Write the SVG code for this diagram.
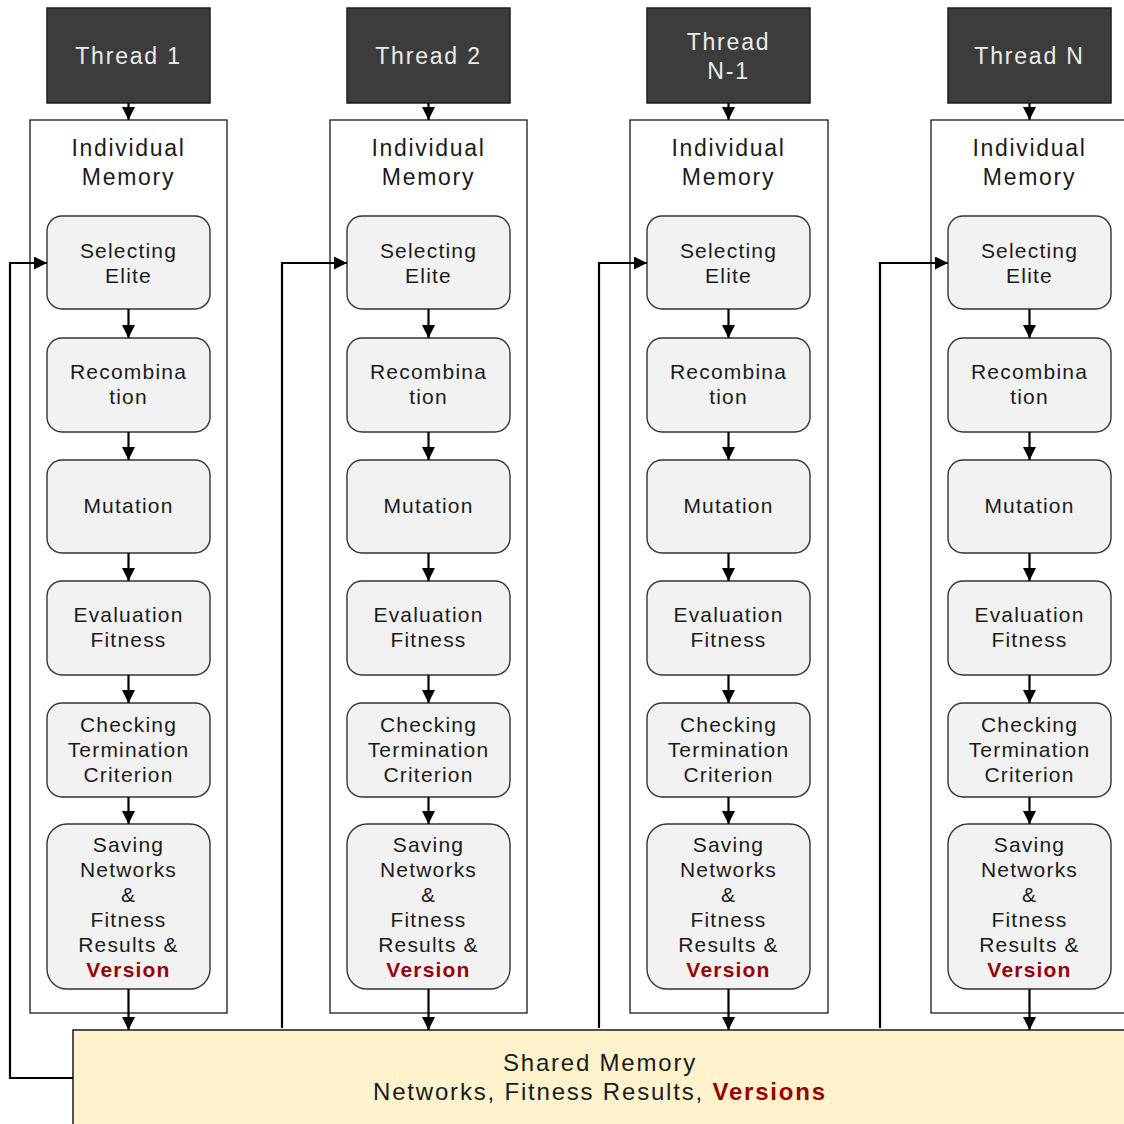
<svg xmlns="http://www.w3.org/2000/svg" width="1124" height="1124" viewBox="0 0 1124 1124">
<defs>
<style>
text{font-family:"Liberation Sans",Arial,sans-serif;text-anchor:middle;fill:#1a1a1a}
.thr rect{fill:#3c3c3c;stroke:#1e1e1e;stroke-width:1.5}
.thr text{fill:#ececec;font-size:23px;letter-spacing:1.8px}
.mem rect{fill:#ffffff;stroke:#1a1a1a;stroke-width:1.3}
.mem text{font-size:23px;letter-spacing:1.7px}
.nd rect{fill:#f2f2f2;stroke:#333333;stroke-width:1.4}
.nd text{font-size:21px;letter-spacing:1.2px}
.red{fill:#990000;font-weight:bold}
.con path{fill:none;stroke:#000;stroke-width:2.2}
.shared rect{fill:#fff2cc;stroke:#1a1a1a;stroke-width:1.5}
.shared text{font-size:24px;letter-spacing:1.8px}
</style>
<marker id="ah" viewBox="0 0 10 10" refX="10" refY="5" markerWidth="13" markerHeight="13" markerUnits="userSpaceOnUse" orient="auto">
<path d="M0,0 L10,5 L0,10 z" fill="#000"/>
</marker>
</defs>
<rect width="1124" height="1124" fill="#ffffff"/>

<!-- Column 1 -->
<g id="thread1" class="thr"><rect x="47" y="8" width="163" height="95"/><text x="128.5" y="64">Thread 1</text></g>
<g id="mem1" class="mem"><rect x="30" y="120" width="197" height="893"/><text x="128.5" y="156">Individual</text><text x="128.5" y="185">Memory</text></g>
<g id="sel1" class="nd"><rect x="47" y="216" width="163" height="93" rx="15"/><text x="128.5" y="258">Selecting</text><text x="128.5" y="283">Elite</text></g>
<g id="rec1" class="nd"><rect x="47" y="338" width="163" height="94" rx="15"/><text x="128.5" y="379">Recombina</text><text x="128.5" y="404">tion</text></g>
<g id="mut1" class="nd"><rect x="47" y="460" width="163" height="93" rx="15"/><text x="128.5" y="513">Mutation</text></g>
<g id="eva1" class="nd"><rect x="47" y="581" width="163" height="94" rx="15"/><text x="128.5" y="622">Evaluation</text><text x="128.5" y="647">Fitness</text></g>
<g id="chk1" class="nd"><rect x="47" y="703" width="163" height="94" rx="15"/><text x="128.5" y="732">Checking</text><text x="128.5" y="757">Termination</text><text x="128.5" y="782">Criterion</text></g>
<g id="sav1" class="nd"><rect x="47" y="824" width="163" height="165" rx="20"/><text x="128.5" y="852">Saving</text><text x="128.5" y="877">Networks</text><text x="128.5" y="902">&amp;</text><text x="128.5" y="927">Fitness</text><text x="128.5" y="952">Results &amp;</text><text x="128.5" y="977" class="red">Version</text></g>

<!-- Column 2 -->
<g id="thread2" class="thr"><rect x="347" y="8" width="163" height="95"/><text x="428.5" y="64">Thread 2</text></g>
<g id="mem2" class="mem"><rect x="330" y="120" width="197" height="893"/><text x="428.5" y="156">Individual</text><text x="428.5" y="185">Memory</text></g>
<g id="sel2" class="nd"><rect x="347" y="216" width="163" height="93" rx="15"/><text x="428.5" y="258">Selecting</text><text x="428.5" y="283">Elite</text></g>
<g id="rec2" class="nd"><rect x="347" y="338" width="163" height="94" rx="15"/><text x="428.5" y="379">Recombina</text><text x="428.5" y="404">tion</text></g>
<g id="mut2" class="nd"><rect x="347" y="460" width="163" height="93" rx="15"/><text x="428.5" y="513">Mutation</text></g>
<g id="eva2" class="nd"><rect x="347" y="581" width="163" height="94" rx="15"/><text x="428.5" y="622">Evaluation</text><text x="428.5" y="647">Fitness</text></g>
<g id="chk2" class="nd"><rect x="347" y="703" width="163" height="94" rx="15"/><text x="428.5" y="732">Checking</text><text x="428.5" y="757">Termination</text><text x="428.5" y="782">Criterion</text></g>
<g id="sav2" class="nd"><rect x="347" y="824" width="163" height="165" rx="20"/><text x="428.5" y="852">Saving</text><text x="428.5" y="877">Networks</text><text x="428.5" y="902">&amp;</text><text x="428.5" y="927">Fitness</text><text x="428.5" y="952">Results &amp;</text><text x="428.5" y="977" class="red">Version</text></g>

<!-- Column 3 -->
<g id="thread3" class="thr"><rect x="647" y="8" width="163" height="95"/><text x="728.5" y="50">Thread</text><text x="728.5" y="79">N-1</text></g>
<g id="mem3" class="mem"><rect x="630" y="120" width="198" height="893"/><text x="728.5" y="156">Individual</text><text x="728.5" y="185">Memory</text></g>
<g id="sel3" class="nd"><rect x="647" y="216" width="163" height="93" rx="15"/><text x="728.5" y="258">Selecting</text><text x="728.5" y="283">Elite</text></g>
<g id="rec3" class="nd"><rect x="647" y="338" width="163" height="94" rx="15"/><text x="728.5" y="379">Recombina</text><text x="728.5" y="404">tion</text></g>
<g id="mut3" class="nd"><rect x="647" y="460" width="163" height="93" rx="15"/><text x="728.5" y="513">Mutation</text></g>
<g id="eva3" class="nd"><rect x="647" y="581" width="163" height="94" rx="15"/><text x="728.5" y="622">Evaluation</text><text x="728.5" y="647">Fitness</text></g>
<g id="chk3" class="nd"><rect x="647" y="703" width="163" height="94" rx="15"/><text x="728.5" y="732">Checking</text><text x="728.5" y="757">Termination</text><text x="728.5" y="782">Criterion</text></g>
<g id="sav3" class="nd"><rect x="647" y="824" width="163" height="165" rx="20"/><text x="728.5" y="852">Saving</text><text x="728.5" y="877">Networks</text><text x="728.5" y="902">&amp;</text><text x="728.5" y="927">Fitness</text><text x="728.5" y="952">Results &amp;</text><text x="728.5" y="977" class="red">Version</text></g>

<!-- Column 4 -->
<g id="thread4" class="thr"><rect x="948" y="8" width="163" height="95"/><text x="1029.5" y="64">Thread N</text></g>
<g id="mem4" class="mem"><rect x="931" y="120" width="200" height="893"/><text x="1029.5" y="156">Individual</text><text x="1029.5" y="185">Memory</text></g>
<g id="sel4" class="nd"><rect x="948" y="216" width="163" height="93" rx="15"/><text x="1029.5" y="258">Selecting</text><text x="1029.5" y="283">Elite</text></g>
<g id="rec4" class="nd"><rect x="948" y="338" width="163" height="94" rx="15"/><text x="1029.5" y="379">Recombina</text><text x="1029.5" y="404">tion</text></g>
<g id="mut4" class="nd"><rect x="948" y="460" width="163" height="93" rx="15"/><text x="1029.5" y="513">Mutation</text></g>
<g id="eva4" class="nd"><rect x="948" y="581" width="163" height="94" rx="15"/><text x="1029.5" y="622">Evaluation</text><text x="1029.5" y="647">Fitness</text></g>
<g id="chk4" class="nd"><rect x="948" y="703" width="163" height="94" rx="15"/><text x="1029.5" y="732">Checking</text><text x="1029.5" y="757">Termination</text><text x="1029.5" y="782">Criterion</text></g>
<g id="sav4" class="nd"><rect x="948" y="824" width="163" height="165" rx="20"/><text x="1029.5" y="852">Saving</text><text x="1029.5" y="877">Networks</text><text x="1029.5" y="902">&amp;</text><text x="1029.5" y="927">Fitness</text><text x="1029.5" y="952">Results &amp;</text><text x="1029.5" y="977" class="red">Version</text></g>

<!-- Shared memory -->
<g id="shared" class="shared"><rect x="73" y="1030" width="1060" height="100"/><text x="600" y="1071">Shared Memory</text><text x="600" y="1100">Networks, Fitness Results, <tspan class="red">Versions</tspan></text></g>

<!-- Connectors -->
<g id="connectors" class="con">
<path d="M128.5,103 V120" marker-end="url(#ah)"/>
<path d="M128.5,309 V338" marker-end="url(#ah)"/>
<path d="M128.5,432 V460" marker-end="url(#ah)"/>
<path d="M128.5,553 V581" marker-end="url(#ah)"/>
<path d="M128.5,675 V703" marker-end="url(#ah)"/>
<path d="M128.5,797 V824" marker-end="url(#ah)"/>
<path d="M128.5,989 V1030" marker-end="url(#ah)"/>
<path d="M428.5,103 V120" marker-end="url(#ah)"/>
<path d="M428.5,309 V338" marker-end="url(#ah)"/>
<path d="M428.5,432 V460" marker-end="url(#ah)"/>
<path d="M428.5,553 V581" marker-end="url(#ah)"/>
<path d="M428.5,675 V703" marker-end="url(#ah)"/>
<path d="M428.5,797 V824" marker-end="url(#ah)"/>
<path d="M428.5,989 V1030" marker-end="url(#ah)"/>
<path d="M728.5,103 V120" marker-end="url(#ah)"/>
<path d="M728.5,309 V338" marker-end="url(#ah)"/>
<path d="M728.5,432 V460" marker-end="url(#ah)"/>
<path d="M728.5,553 V581" marker-end="url(#ah)"/>
<path d="M728.5,675 V703" marker-end="url(#ah)"/>
<path d="M728.5,797 V824" marker-end="url(#ah)"/>
<path d="M728.5,989 V1030" marker-end="url(#ah)"/>
<path d="M1029.5,103 V120" marker-end="url(#ah)"/>
<path d="M1029.5,309 V338" marker-end="url(#ah)"/>
<path d="M1029.5,432 V460" marker-end="url(#ah)"/>
<path d="M1029.5,553 V581" marker-end="url(#ah)"/>
<path d="M1029.5,675 V703" marker-end="url(#ah)"/>
<path d="M1029.5,797 V824" marker-end="url(#ah)"/>
<path d="M1029.5,989 V1030" marker-end="url(#ah)"/>
<path d="M73,1078 H10 V263 H47" marker-end="url(#ah)"/>
<path d="M282,1028 V263 H347" marker-end="url(#ah)"/>
<path d="M599,1028 V263 H647" marker-end="url(#ah)"/>
<path d="M880,1028 V263 H948" marker-end="url(#ah)"/>
</g>
</svg>
